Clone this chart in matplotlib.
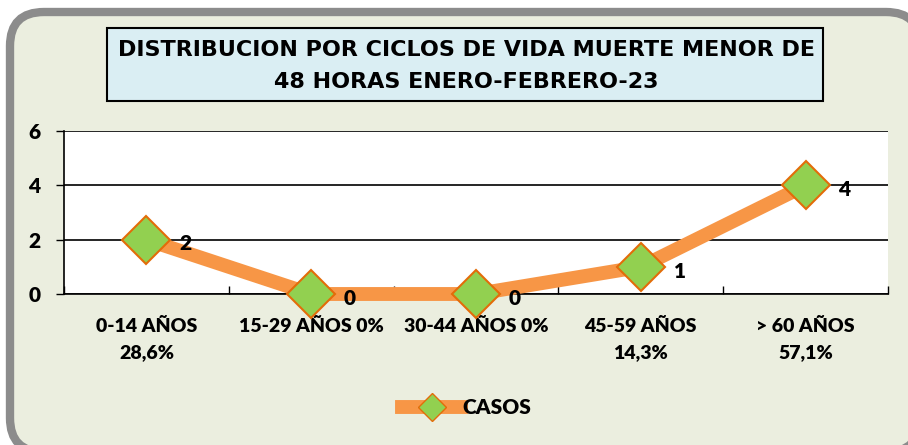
import matplotlib
matplotlib.use('Agg')
import matplotlib.pyplot as plt
from matplotlib.patches import FancyBboxPatch, Rectangle
from matplotlib.lines import Line2D

categories = ['0-14 AÑOS\n28,6%', '15-29 AÑOS 0%', '30-44 AÑOS 0%',
              '45-59 AÑOS\n14,3%', '> 60 AÑOS\n57,1%']
casos = [2, 0, 0, 1, 4]
title = 'DISTRIBUCION POR CICLOS DE VIDA MUERTE MENOR DE\n48 HORAS ENERO-FEBRERO-23'

plt.rcParams['font.family'] = ['Lato', 'DejaVu Sans']

fig = plt.figure(figsize=(9.08, 4.45), dpi=100)

# background frame in pixel coordinates
bg = fig.add_axes([0, 0, 1, 1])
bg.set_xlim(0, 908)
bg.set_ylim(445, 0)
bg.axis('off')
bg.add_patch(FancyBboxPatch((10, 12), 910, 440,
                            boxstyle='round,pad=0,rounding_size=34',
                            facecolor='#EBEEDF', edgecolor='#8C8C8C', linewidth=6))
bg.add_patch(Rectangle((107, 28), 716, 73, facecolor='#DAEEF3',
                       edgecolor='black', linewidth=1.5))
bg.text(466, 66, title, ha='center', va='center', fontsize=16,
        fontweight='bold', linespacing=1.7, family=['DejaVu Sans'])

ax = fig.add_axes([64 / 908, 1 - 294 / 445, 824 / 908, 163 / 445])
ax.set_facecolor('white')
x = list(range(len(casos)))
ax.plot(x, casos, color='#F79646', linewidth=10, solid_capstyle='butt',
        marker='D', markersize=24, markerfacecolor='#92D050',
        markeredgecolor='#E36C09', markeredgewidth=1.5, zorder=3, clip_on=False)
for xi, v in zip(x, casos):
    ax.annotate(str(v), (xi, v), xytext=(28, -3), textcoords='offset points',
                ha='center', va='center', fontsize=15, fontweight='heavy')

ax.set_xlim(-0.5, 4.5)
ax.set_ylim(0, 6)
ax.set_yticks([0, 2, 4, 6])
ax.grid(axis='y', color='black', linewidth=1.2)
ax.set_axisbelow(True)
ax.set_xticks([i + 0.5 for i in range(-1, 5)], minor=False)
ax.set_xticklabels([])
ax.set_xticks(x, minor=True)
ax.set_xticklabels(categories, minor=True, fontsize=14, fontweight='heavy',
                   linespacing=1.7)
ax.tick_params(axis='x', which='minor', length=0, pad=17)
ax.tick_params(axis='x', which='major', length=6, direction='in', width=1)
ax.tick_params(axis='y', length=6, direction='out', width=1, labelsize=15, pad=11)
for lab in ax.get_yticklabels():
    lab.set_fontweight('heavy')
for s in ['top', 'right']:
    ax.spines[s].set_visible(False)
ax.spines['left'].set_linewidth(1.2)
ax.spines['bottom'].set_linewidth(1.2)

handle = Line2D([], [], color='#F79646', linewidth=10, marker='D', markersize=14,
                markerfacecolor='#92D050', markeredgecolor='#E36C09')
fig.legend([handle], ['CASOS'], loc='center', bbox_to_anchor=(467 / 908, 1 - 408 / 445),
           frameon=False, prop={'size': 15, 'weight': 'heavy'}, handlelength=2.8,
           handletextpad=0.1)

fig.savefig('out.png', dpi=100)
